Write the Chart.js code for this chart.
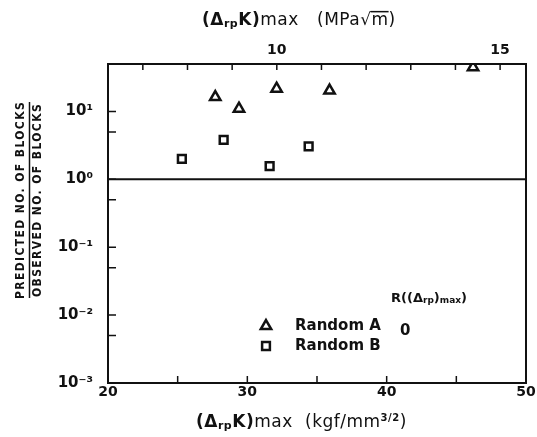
<!DOCTYPE html>
<html>
<head>
<meta charset="utf-8">
<script src="https://cdn.jsdelivr.net/npm/chart.js@4.4.0/dist/chart.umd.min.js"></script>
<style>
    html, body { margin: 0; padding: 0; background: #fff; }
    #wrap { width: 537px; height: 437px; }
</style>
</head>
<body>
<div id="wrap"><canvas id="chart" width="537" height="437"></canvas></div>
<script>
// Random A (triangles), x in kgf/mm^3/2, y = predicted / observed
const randomAX = [27.7, 29.4, 32.1, 35.9, 46.2];
const randomAY = [16.3, 11.0, 21.6, 20.3, 44.7];

// Random B (squares)
const randomBX = [25.3, 28.3, 31.6, 34.4];
const randomBY = [2.0, 3.8, 1.57, 3.06];

// predicted = observed
const unityX = [20, 50];
const unityY = [1, 1];

// axis ticks
const bottomTicks = [20, 25, 30, 35, 40, 45, 50];
const bottomLabels = [20, 30, 40, 50];
const topTicks = [7, 8, 9, 10, 11, 12, 13, 14, 15];
const topLabels = [10, 15];
const yTicks = [0.001, 0.005, 0.01, 0.05, 0.1, 0.5, 1, 5, 10];
const yLabels = ['10⁻³', '10⁻²', '10⁻¹', '10⁰', '10¹'];
const yLabelValues = [0.001, 0.01, 0.1, 1, 10];

const INK = '#111';
const FONT = "'DejaVu Sans', sans-serif";

function toPoints(xs, ys) {
    return xs.map((x, i) => ({ x: x, y: ys[i] }));
}

// draw a line of text made of runs with different sizes / offsets
function drawRuns(ctx, x, y, runs) {
    let cx = x;
    runs.forEach(r => {
        ctx.font = (r.weight || 'bold') + ' ' + r.size + 'px ' + FONT;
        if (r.at !== undefined) cx = r.at;
        ctx.fillText(r.t, cx, y + (r.dy || 0));
        const w = ctx.measureText(r.t).width;
        if (r.over) {
            ctx.beginPath();
            ctx.lineWidth = 1.5;
            ctx.moveTo(cx - 1, y - r.size * 0.55);
            ctx.lineTo(cx + w, y - r.size * 0.55);
            ctx.stroke();
        }
        cx += w;
    });
}

// inward tick marks, frame, titles and the legend box
const decorations = {
    id: 'decorations',
    afterDraw(chart) {
        const ctx = chart.ctx;
        const area = chart.chartArea;
        const xs = chart.scales.x;
        const xt = chart.scales.x2;
        const ys = chart.scales.y;
        ctx.save();
        ctx.strokeStyle = INK;
        ctx.fillStyle = INK;

        // frame
        ctx.lineWidth = 2;
        ctx.strokeRect(area.left, area.top, area.right - area.left, area.bottom - area.top);

        // inward ticks
        ctx.lineWidth = 1.5;
        ctx.beginPath();
        xs.ticks.forEach(t => {
            const px = xs.getPixelForValue(t.value);
            ctx.moveTo(px, area.bottom);
            ctx.lineTo(px, area.bottom - 7);
        });
        xt.ticks.forEach(t => {
            const px = xt.getPixelForValue(t.value);
            ctx.moveTo(px, area.top);
            ctx.lineTo(px, area.top + 6);
        });
        ys.ticks.forEach(t => {
            const py = ys.getPixelForValue(t.value);
            ctx.moveTo(area.left, py);
            ctx.lineTo(area.left + 8, py);
        });
        ctx.stroke();

        // top axis title
        ctx.textBaseline = 'middle';
        ctx.textAlign = 'left';
        ctx.letterSpacing = '0.5px';
        drawRuns(ctx, 202, 21, [
            { t: '(Δ', size: 17 },
            { t: 'rp', size: 11, dy: 3 },
            { t: 'K)', size: 17 },
            { t: 'max', size: 17, weight: 'normal' },
            { t: '(MPa√', size: 17, weight: 'normal', at: 317 },
            { t: 'm', size: 17, weight: 'normal', over: true },
            { t: ')', size: 17, weight: 'normal' }
        ]);

        // bottom axis title
        drawRuns(ctx, 196, 423, [
            { t: '(Δ', size: 17 },
            { t: 'rp', size: 11, dy: 3 },
            { t: 'K)', size: 17 },
            { t: 'max', size: 17, weight: 'normal' },
            { t: '(kgf/mm', size: 17, weight: 'normal', at: 305 },
            { t: '3/2', size: 10, dy: -5 },
            { t: ')', size: 17, weight: 'normal' }
        ]);
        ctx.letterSpacing = '0px';

        // y axis title as a fraction
        ctx.save();
        ctx.translate(0, 200);
        ctx.rotate(-Math.PI / 2);
        ctx.textAlign = 'center';
        ctx.letterSpacing = '1.4px';
        ctx.font = "bold 12px 'DejaVu Sans Condensed', " + FONT;
        ctx.fillText('PREDICTED NO. OF BLOCKS', 0, 21);
        ctx.fillText('OBSERVED NO. OF BLOCKS', 0, 38);
        ctx.letterSpacing = '0px';
        ctx.lineWidth = 1.5;
        ctx.beginPath();
        ctx.moveTo(-98, 29.5);
        ctx.lineTo(98, 29.5);
        ctx.stroke();
        ctx.restore();

        // legend
        drawRuns(ctx, 391, 299, [
            { t: 'R((Δ', size: 13 },
            { t: 'rp', size: 9, dy: 2 },
            { t: ')', size: 13 },
            { t: 'max', size: 9, dy: 2 },
            { t: ')', size: 13 }
        ]);
        chart.data.datasets.slice(0, 2).forEach((ds, i) => {
            const ly = 326 + i * 20;
            ctx.fillStyle = '#fff';
            ctx.lineWidth = ds.borderWidth;
            Chart.helpers.drawPoint(ctx, {
                pointStyle: ds.pointStyle,
                radius: ds.pointRadius,
                borderWidth: ds.borderWidth,
                rotation: 0
            }, 266, ly);
            ctx.fillStyle = INK;
            ctx.font = 'bold 15px ' + FONT;
            ctx.fillText(ds.label, 295, ly);
        });
        ctx.font = 'bold 15px ' + FONT;
        ctx.fillText('0', 400, 331);

        ctx.restore();
    }
};

const chart = new Chart(document.getElementById('chart'), {
    type: 'scatter',
    data: {
        datasets: [
            {
                label: 'Random A',
                data: toPoints(randomAX, randomAY),
                pointStyle: 'triangle',
                pointRadius: 6,
                borderWidth: 2.5,
                borderColor: INK,
                backgroundColor: 'rgba(0,0,0,0)'
            },
            {
                label: 'Random B',
                data: toPoints(randomBX, randomBY),
                pointStyle: 'rect',
                pointRadius: 5.5,
                borderWidth: 2.5,
                borderColor: INK,
                backgroundColor: 'rgba(0,0,0,0)'
            },
            {
                label: 'unity',
                data: toPoints(unityX, unityY),
                showLine: true,
                pointRadius: 0,
                borderWidth: 2,
                borderColor: INK
            }
        ]
    },
    options: {
        responsive: false,
        animation: false,
        devicePixelRatio: 1,
        layout: { padding: { left: 0, right: 11, top: 0, bottom: 0 } },
        plugins: {
            legend: { display: false },
            tooltip: { enabled: false }
        },
        scales: {
            x: {
                type: 'linear',
                position: 'bottom',
                min: 20,
                max: 50,
                afterBuildTicks: s => { s.ticks = bottomTicks.map(v => ({ value: v })); },
                afterFit: s => { s.height = 54; },
                grid: { display: false },
                border: { display: false },
                ticks: {
                    autoSkip: false,
                    maxRotation: 0,
                    padding: -7,
                    color: INK,
                    font: { family: FONT, size: 14, weight: 'bold' },
                    callback: v => bottomLabels.includes(v) ? String(v) : ''
                }
            },
            x2: {
                type: 'linear',
                position: 'top',
                min: 6.22,
                max: 15.58,
                afterBuildTicks: s => { s.ticks = topTicks.map(v => ({ value: v })); },
                afterFit: s => { s.height = 64; },
                grid: { display: false },
                border: { display: false },
                ticks: {
                    autoSkip: false,
                    maxRotation: 0,
                    padding: -3,
                    color: INK,
                    font: { family: FONT, size: 14, weight: 'bold' },
                    callback: v => topLabels.includes(v) ? String(v) : ''
                }
            },
            y: {
                type: 'logarithmic',
                position: 'left',
                min: 0.001,
                max: 50,
                afterBuildTicks: s => { s.ticks = yTicks.map(v => ({ value: v })); },
                afterFit: s => { s.width = 108; },
                grid: { display: false },
                border: { display: false },
                ticks: {
                    autoSkip: false,
                    padding: 7,
                    color: INK,
                    font: { family: FONT, size: 15, weight: 'bold' },
                    callback: v => {
                        const i = yLabelValues.findIndex(p => Math.abs(p - v) < p * 1e-6);
                        return i >= 0 ? yLabels[i] : '';
                    }
                }
            }
        }
    },
    plugins: [decorations]
});
</script>
</body>
</html>
